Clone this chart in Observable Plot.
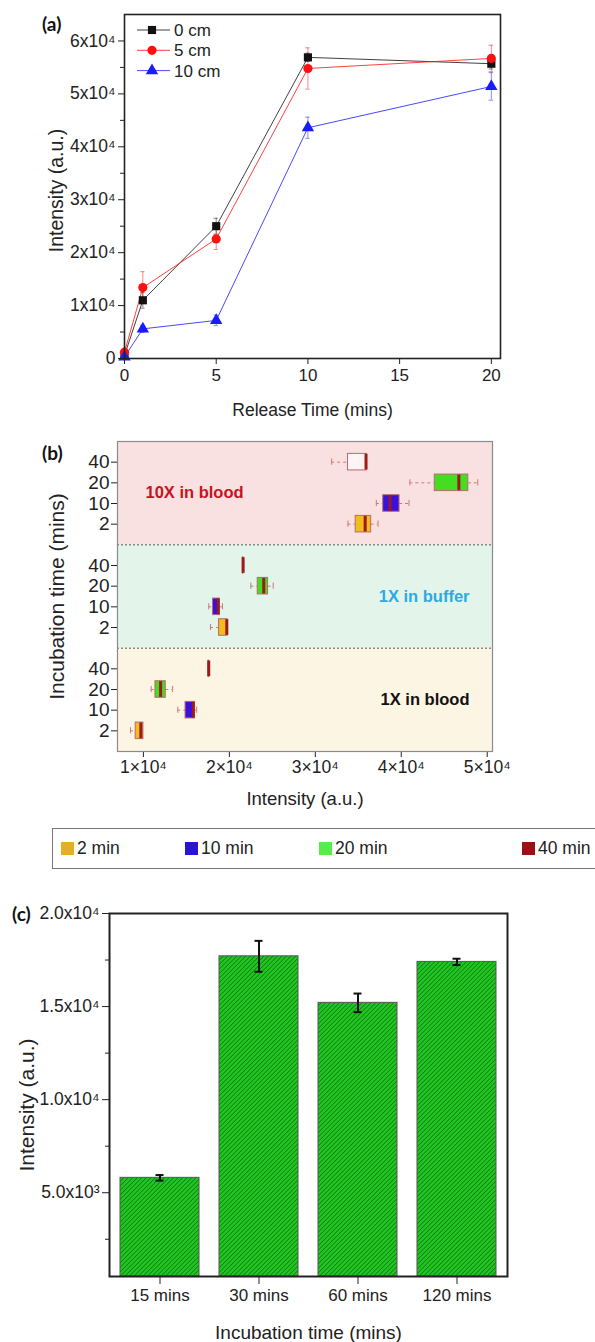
<!DOCTYPE html>
<html><head><meta charset="utf-8">
<script src="https://cdn.jsdelivr.net/npm/d3@7"></script>
<script src="https://cdn.jsdelivr.net/npm/@observablehq/plot@0.6"></script>
<style>
html,body{margin:0;padding:0;background:#fff;}
#root{position:relative;width:595px;height:1342px;overflow:hidden;font-family:"Liberation Sans",Arial,sans-serif;color:#222;}
.panel{position:absolute;left:0;}
.letter{position:absolute;font-family:Lato,"Open Sans",sans-serif;font-weight:700;font-size:19px;color:#111;}
.legB{position:absolute;left:52px;top:828px;width:600px;height:41px;border:1.5px solid #777;box-sizing:border-box;font-size:17.5px;}
.legB .it{position:absolute;top:9px;display:flex;align-items:center;}
.legB .sw{width:13px;height:13px;margin-right:3px;}
</style></head><body><div id="root"></div>
<script>
// ---------- Panel (a) data ----------
const releaseTimes = [0, 1, 5, 10, 20];
const seriesA = ["0 cm", "5 cm", "10 cm"];
const int0cm  = [600, 11000, 25000, 56900, 55700];
const err0cm  = [300, 1500, 1500, 800, 1000];
const int5cm  = [1200, 13400, 22600, 54800, 56700];
const err5cm  = [400, 3000, 2000, 3900, 2500];
const int10cm = [300, 5600, 7200, 43600, 51400];
const err10cm = [200, 700, 1000, 2000, 2600];
const yTicksA = [0, 10000, 20000, 30000, 40000, 50000, 60000];
const yMinorA = [5000, 15000, 25000, 35000, 45000, 55000];
const xTicksA = [0, 5, 10, 15, 20];

// ---------- Panel (b) data ----------
const incubationTimes = [2, 10, 20, 40];
const groupsB = ["1X in blood", "1X in buffer", "10X in blood"];
// each entry: [min, q1, median, q3, max] for 2,10,20,40 min
const blood1X  = [[8500, 9100, 9700, 10000, 10000], [14000, 14900, 15800, 16000, 16200], [10900, 11400, 12000, 12600, 13400], [17550, 17580, 17600, 17620, 17650]];
const buffer1X = [[17800, 18800, 19700, 19800, 19800], [17600, 18100, 18700, 18900, 19200], [22500, 23300, 24000, 24500, 25100], [21550, 21580, 21600, 21620, 21650]];
const blood10X = [[33800, 34700, 35800, 36500, 37300], [37100, 37900, 38700, 39800, 40900], [41000, 43900, 46700, 47800, 48900], [31900, 33800, 35900, 36000, 36000]];
const xTicksB = [10000, 20000, 30000, 40000, 50000];

// ---------- Panel (c) data ----------
const incubationCats = ["15 mins", "30 mins", "60 mins", "120 mins"];
const intensityC = [5800, 17700, 15200, 17400];
const errorC = [150, 830, 500, 170];
const yTicksC = [5000, 10000, 15000, 20000];
const yMinorC = [2500, 7500, 12500, 17500];

// ---------- styles ----------
const FONT = '"Liberation Sans", Arial, sans-serif';
const colorA = {"0 cm": "#111111", "5 cm": "#ff1010", "10 cm": "#1a1aff"};
const symbolA = {"0 cm": "square", "5 cm": "circle", "10 cm": "triangle"};
const timeColors = ["#f0bc1e", "#3a10e0", "#44dd22", "#a0141c"];
const legendColors = ["#e6ae22", "#2a12d8", "#55ee44", "#a00e14"];
const bandColors = ["#fdf5e4", "#e3f4ea", "#f9e1e1"];
const root = document.getElementById("root");
const noLabel = () => "";

function place(el, top) { el.classList.add("panel"); el.style.top = top + "px"; root.appendChild(el); }

// ================= Panel (a) =================
const valsA = [int0cm, int5cm, int10cm], errsA = [err0cm, err5cm, err10cm];
const rowsA = seriesA.flatMap((s, si) => releaseTimes.map((t, i) => ({series: s, t, v: valsA[si][i], e: errsA[si][i]})));
const xDomA = [0, 20.5], yDomA = [0, 65000];
const marksA = [];
for (const s of seriesA) {
  const d = rowsA.filter(r => r.series === s), c = colorA[s];
  marksA.push(
    Plot.ruleX(d, {x: "t", y1: r => r.v - r.e, y2: r => r.v + r.e, stroke: c, strokeOpacity: 0.5}),
    Plot.ruleY(d, {y: r => r.v + r.e, x1: r => r.t - 0.12, x2: r => r.t + 0.12, stroke: c, strokeOpacity: 0.5}),
    Plot.ruleY(d, {y: r => r.v - r.e, x1: r => r.t - 0.12, x2: r => r.t + 0.12, stroke: c, strokeOpacity: 0.5}),
    Plot.line(d, {x: "t", y: "v", stroke: c, strokeWidth: 1, strokeOpacity: 0.8})
  );
}
for (const s of seriesA) {
  marksA.push(Plot.dot(rowsA.filter(r => r.series === s), {x: "t", y: "v", symbol: symbolA[s], r: 4.6, fill: colorA[s], stroke: "none"}));
}
const fmtA = d => d === 0 ? "0" : `${d / 1e4}x10⁴`;
const svgA = Plot.plot({
  width: 595, height: 425,
  marginTop: 14, marginRight: 95, marginBottom: 67, marginLeft: 124,
  style: {fontFamily: FONT, fontSize: "17px", color: "#222", background: "transparent", overflow: "visible"},
  x: {domain: xDomA},
  y: {domain: yDomA},
  marks: [
    ...marksA,
    Plot.axisX({ticks: xTicksA, tickSize: 6, tickPadding: 4, label: null, fontSize: 17}),
    Plot.axisY({ticks: yTicksA, tickFormat: fmtA, tickSize: 6, tickPadding: 3, label: null, fontSize: 17.5}),
    Plot.axisY({ticks: yMinorA, tickFormat: noLabel, tickSize: 4, label: null}),
    Plot.frame({stroke: "#222", strokeWidth: 1.6}),
    Plot.text(["Release Time (mins)"], {frameAnchor: "bottom", dy: 52, lineAnchor: "middle", fontSize: 17.5, fill: "#222"}),
    Plot.text(["Intensity (a.u.)"], {frameAnchor: "left", dx: -68, dy: 4, rotate: -90, textAnchor: "middle", lineAnchor: "middle", fontSize: 19.5, fill: "#222"})
  ]
});
place(svgA, 0);

// legend (a)
{
  const lg = d3.create("svg").attr("width", 120).attr("height", 70)
    .style("position", "absolute").style("left", "130px").style("top", "18px").style("font-family", FONT);
  seriesA.forEach((s, i) => {
    const y = 12 + i * 20.3, c = colorA[s];
    lg.append("line").attr("x1", 7).attr("x2", 40).attr("y1", y).attr("y2", y).attr("stroke", c).attr("stroke-width", 1).attr("stroke-opacity", 0.8);
    lg.append("path").attr("transform", `translate(22,${y})`)
      .attr("d", d3.symbol(symbolA[s] === "square" ? d3.symbolSquare : symbolA[s] === "circle" ? d3.symbolCircle : d3.symbolTriangle, Math.PI * 4.6 * 4.6)())
      .attr("fill", c);
    lg.append("text").attr("x", 44).attr("y", y).attr("dy", "0.36em").attr("font-size", 17).attr("fill", "#222").text(s);
  });
  root.appendChild(lg.node());
}

// ================= Panel (b) =================
const boxSets = [blood1X, buffer1X, blood10X];
const rowsB = groupsB.flatMap((g, gi) => incubationTimes.map((t, ti) => {
  const [mn, q1, md, q3, mx] = boxSets[gi][ti];
  return {group: g, gi, time: t, ti, y: gi * 5 + 1 + ti, mn, q1, md, q3, mx};
}));
const xDomB = [6984, 50616], yDomB = [0, 15];
const bands = groupsB.map((g, gi) => ({g, gi, y1: gi * 5, y2: gi * 5 + 5}));
const yTickValsB = rowsB.map(r => r.y);
const boxFill = r => (r.group === "10X in blood" && r.time === 40) ? "#fff4f4" : timeColors[r.ti];
const svgB = Plot.plot({
  width: 595, height: 395,
  marginTop: 16, marginRight: 103, marginBottom: 69, marginLeft: 117,
  style: {fontFamily: FONT, fontSize: "18px", color: "#222", background: "transparent", overflow: "visible"},
  x: {domain: xDomB},
  y: {domain: yDomB},
  marks: [
    Plot.rect(bands, {x1: xDomB[0], x2: xDomB[1], y1: "y1", y2: "y2", fill: (d) => bandColors[d.gi]}),
    Plot.ruleY([5, 10], {stroke: "#555", strokeDasharray: "2,2", strokeWidth: 1}),
    Plot.ruleY(rowsB.filter(r => r.q1 > r.mn), {y: "y", x1: "mn", x2: "q1", stroke: "#d07878", strokeDasharray: "3,3"}),
    Plot.ruleY(rowsB.filter(r => r.mx > r.q3), {y: "y", x1: "q3", x2: "mx", stroke: "#d07878", strokeDasharray: "3,3"}),
    Plot.ruleX(rowsB.filter(r => r.q1 > r.mn), {x: "mn", y1: r => r.y - 0.15, y2: r => r.y + 0.15, stroke: "#d07878"}),
    Plot.ruleX(rowsB.filter(r => r.mx > r.q3), {x: "mx", y1: r => r.y - 0.15, y2: r => r.y + 0.15, stroke: "#d07878"}),
    Plot.rect(rowsB, {x1: "q1", x2: "q3", y1: r => r.y - 0.4, y2: r => r.y + 0.4, fill: boxFill, stroke: "#b86a6a", strokeWidth: 1}),
    Plot.ruleX(rowsB, {x: "md", y1: r => r.y - 0.38, y2: r => r.y + 0.38, stroke: "#9c1a1a", strokeWidth: 3}),
    Plot.text([groupsB[2]], {y: 12.5, frameAnchor: "left", dx: 28, textAnchor: "start", fontSize: 16.5, fontWeight: "bold", fill: "#c8121e"}),
    Plot.text([groupsB[1]], {y: 7.5, frameAnchor: "right", dx: -23, textAnchor: "end", fontSize: 16.5, fontWeight: "bold", fill: "#2aaae6"}),
    Plot.text([groupsB[0]], {y: 2.5, frameAnchor: "right", dx: -23, textAnchor: "end", fontSize: 16.5, fontWeight: "bold", fill: "#111"}),
    Plot.axisX({ticks: xTicksB, tickFormat: d => `${d / 1e4}×10⁴`, tickSize: 6, tickPadding: 3, label: null, fontSize: 17.5}),
    Plot.axisY({ticks: yTickValsB, tickFormat: d => String(incubationTimes[Math.round(d) % 5 - 1]), tickSize: 6, tickPadding: 2, label: null, fontSize: 19}),
    Plot.frame({stroke: "#8a8a8a", strokeWidth: 1.2}),
    Plot.text(["Intensity (a.u.)"], {frameAnchor: "bottom", dy: 48, lineAnchor: "middle", fontSize: 18.5, fill: "#222"}),
    Plot.text(["Incubation time (mins)"], {frameAnchor: "left", dx: -60, rotate: -90, textAnchor: "middle", lineAnchor: "middle", fontSize: 21, fill: "#222"})
  ]
});
place(svgB, 425);

// legend (b)
{
  const lg = document.createElement("div");
  lg.className = "legB";
  const lefts = [8, 132, 266, 469];
  incubationTimes.forEach((t, i) => {
    const it = document.createElement("div");
    it.className = "it";
    it.style.left = lefts[i] + "px";
    it.innerHTML = `<span class="sw" style="background:${legendColors[i]}"></span><span>${t} min</span>`;
    lg.appendChild(it);
  });
  root.appendChild(lg);
}

// ================= Panel (c) =================
const rowsC = incubationCats.map((c, i) => ({cat: c, v: intensityC[i], e: errorC[i]}));
const yDomC = [500, 20000];
const fmtC = d => d < 1e4 ? `${(d / 1e3).toFixed(1)}x10³` : `${(d / 1e4).toFixed(1)}x10⁴`;
const svgC = Plot.plot({
  width: 595, height: 462,
  marginTop: 33, marginRight: 88, marginBottom: 66, marginLeft: 109,
  style: {fontFamily: FONT, fontSize: "17px", color: "#222", background: "transparent", overflow: "visible"},
  x: {domain: incubationCats, paddingInner: 0.2, paddingOuter: 0.11},
  y: {domain: yDomC},
  marks: [
    Plot.barY(rowsC, {x: "cat", y1: yDomC[0], y2: "v", fill: "url(#hatchC)", stroke: "#555", strokeWidth: 1}),
    Plot.ruleX(rowsC, {x: "cat", y1: d => d.v - d.e, y2: d => d.v + d.e, stroke: "#111", strokeWidth: 2}),
    Plot.tickY(rowsC, {x: "cat", y: d => d.v + d.e, stroke: "#111", strokeWidth: 2, insetLeft: 35.5, insetRight: 35.5}),
    Plot.tickY(rowsC, {x: "cat", y: d => d.v - d.e, stroke: "#111", strokeWidth: 2, insetLeft: 35.5, insetRight: 35.5}),
    Plot.axisX({tickSize: 8, tickPadding: 4, label: null, fontSize: 17}),
    Plot.axisY({ticks: yTicksC, tickFormat: fmtC, tickSize: 7, tickPadding: 3, label: null, fontSize: 17.5}),
    Plot.axisY({ticks: yMinorC, tickFormat: noLabel, tickSize: 4, label: null}),
    Plot.frame({stroke: "#222", strokeWidth: 2}),
    Plot.text(["Incubation time (mins)"], {frameAnchor: "bottom", dy: 56, lineAnchor: "middle", fontSize: 19, fill: "#222"}),
    Plot.text(["Intensity (a.u.)"], {frameAnchor: "left", dx: -82, dy: 10, rotate: -90, textAnchor: "middle", lineAnchor: "middle", fontSize: 21, fill: "#222"})
  ]
});
{
  const ns = "http://www.w3.org/2000/svg";
  const defs = document.createElementNS(ns, "defs");
  defs.innerHTML = `<pattern id="hatchC" patternUnits="userSpaceOnUse" width="3.2" height="3.2" patternTransform="rotate(45)">
    <rect width="3.2" height="3.2" fill="#22c622"/>
    <line x1="0" y1="0" x2="0" y2="3.2" stroke="#0b6a0b" stroke-width="1.3"/></pattern>`;
  svgC.insertBefore(defs, svgC.firstChild);
}
place(svgC, 880);

// panel letters
[["(a)", 42, 12], ["(b)", 42, 441], ["(c)", 12, 902]].forEach(([t, x, y]) => {
  const d = document.createElement("div");
  d.className = "letter"; d.textContent = t; d.style.left = x + "px"; d.style.top = y + "px";
  root.appendChild(d);
});
</script></body></html>
